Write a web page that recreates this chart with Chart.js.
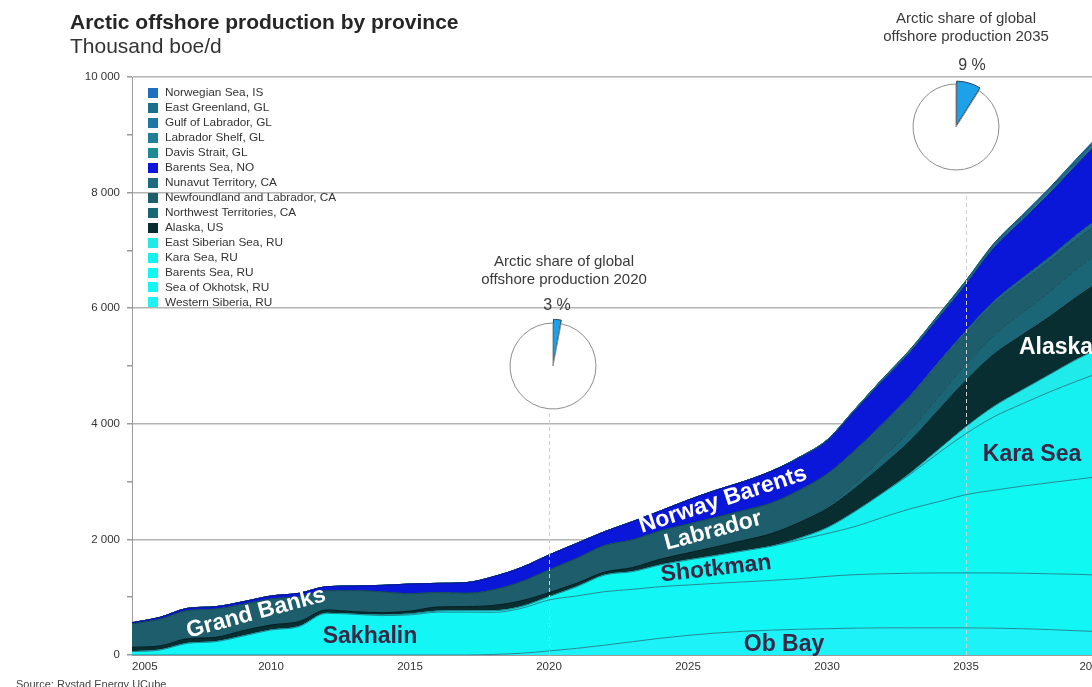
<!DOCTYPE html>
<html>
<head>
<meta charset="utf-8">
<title>Arctic offshore production by province</title>
<script src="https://cdn.jsdelivr.net/npm/chart.js@4.4.1/dist/chart.umd.min.js"></script>
<style>
  html, body { margin: 0; padding: 0; background: #fff; overflow: hidden; }
  #wrap { position: relative; width: 1092px; height: 687px; overflow: hidden; }
  #main { position: absolute; left: 0; top: 0; }
  .pie { position: absolute; }
</style>
</head>
<body>
<div id="wrap">
  <canvas id="main" width="1130" height="687"></canvas>
  <canvas id="pie2020" class="pie" width="120" height="120"></canvas>
  <canvas id="pie2035" class="pie" width="120" height="120"></canvas>
</div>
<script>
// years on the x axis
const years = [2005, 2006, 2007, 2008, 2009, 2010, 2011, 2012, 2013, 2014, 2015, 2016,
  2017, 2018, 2019, 2020, 2021, 2022, 2023, 2024, 2025, 2026, 2027, 2028,
  2029, 2030, 2031, 2032, 2033, 2034, 2035, 2036, 2037, 2038, 2039, 2040];

// thousand boe/d, stacked bottom -> top
const westernSiberia = [0, 0, 0, 0, 0, 0, 0, 0, 0, 0, 0, 0, 0, 10, 30, 70, 115, 170, 230, 290, 340, 380, 410, 430, 445, 455, 465, 470, 470, 470, 470, 465, 455, 440, 420, 400];
const seaOfOkhotsk = [58, 86, 202, 231, 329, 433, 490, 721, 704, 682, 695, 740, 742, 727, 777, 882, 906, 926, 906, 892, 871, 860, 855, 860, 875, 905, 925, 935, 945, 950, 950, 955, 960, 965, 975, 980];
const barentsRU = [0, 0, 0, 0, 0, 0, 0, 0, 0, 10, 15, 20, 25, 30, 30, 57, 161, 288, 306, 375, 433, 480, 535, 590, 670, 740, 830, 975, 1115, 1230, 1355, 1430, 1505, 1575, 1645, 1720];
const karaSea = [0, 0, 0, 0, 0, 0, 0, 0, 0, 0, 0, 0, 0, 0, 0, 0, 0, 0, 0, 0, 0, 0, 0, 0, 30, 100, 260, 420, 600, 840, 1055, 1270, 1420, 1570, 1700, 1820];
const eastSiberian = [0, 0, 0, 0, 0, 0, 0, 0, 0, 0, 0, 0, 0, 0, 0, 0, 0, 0, 0, 0, 0, 0, 0, 0, 0, 0, 0, 0, 20, 60, 120, 180, 240, 300, 380, 430];
const alaska = [75, 70, 80, 74, 92, 86, 86, 58, 45, 40, 50, 70, 70, 90, 100, 70, 60, 50, 70, 100, 120, 150, 180, 220, 270, 330, 400, 480, 560, 680, 800, 900, 950, 1000, 1080, 1170];
const northwestTerritories = [0, 0, 0, 0, 0, 0, 0, 0, 0, 0, 0, 0, 0, 0, 0, 0, 0, 0, 0, 0, 0, 0, 0, 0, 0, 30, 80, 130, 180, 230, 280, 330, 380, 430, 480, 520];
const newfoundland = [403, 462, 485, 490, 456, 450, 433, 333, 365, 360, 300, 250, 230, 270, 330, 393, 430, 460, 480, 490, 500, 510, 520, 530, 560, 570, 580, 580, 580, 570, 540, 540, 540, 530, 520, 510];
const nunavut = [0, 0, 0, 0, 0, 0, 0, 0, 0, 0, 0, 0, 0, 0, 0, 0, 0, 0, 0, 0, 0, 0, 0, 0, 0, 0, 0, 10, 20, 30, 40, 50, 60, 70, 80, 90];
const barentsNO = [23, 33, 41, 41, 45, 52, 58, 70, 80, 113, 168, 160, 184, 228, 245, 258, 260, 240, 315, 344, 416, 470, 500, 550, 560, 570, 680, 740, 750, 760, 800, 920, 1000, 1100, 1210, 1340];
const davisStrait = [0, 0, 0, 0, 0, 0, 0, 0, 0, 0, 0, 0, 0, 0, 0, 0, 0, 0, 0, 0, 0, 0, 0, 0, 10, 15, 20, 20, 20, 25, 25, 25, 25, 25, 25, 25];
const labradorShelf = [0, 0, 0, 0, 0, 0, 0, 0, 0, 0, 0, 0, 0, 0, 0, 0, 0, 0, 0, 0, 0, 0, 0, 0, 0, 5, 10, 15, 15, 15, 15, 15, 20, 20, 20, 20];
const gulfOfLabrador = [0, 0, 0, 0, 0, 0, 0, 0, 0, 0, 0, 0, 0, 0, 0, 0, 0, 0, 0, 0, 0, 0, 0, 0, 0, 0, 0, 5, 10, 10, 15, 15, 15, 20, 20, 25];
const eastGreenland = [0, 0, 0, 0, 0, 0, 0, 0, 0, 0, 0, 0, 0, 0, 0, 0, 0, 0, 0, 0, 0, 0, 0, 0, 0, 0, 0, 0, 5, 10, 10, 15, 15, 15, 20, 25];
const norwegianSea = [0, 0, 0, 0, 0, 0, 0, 0, 0, 0, 0, 0, 0, 0, 0, 0, 0, 0, 0, 0, 0, 0, 0, 0, 0, 0, 0, 0, 0, 0, 5, 10, 15, 20, 25, 25];

// Arctic share of global offshore production (pies)
const share2020 = [3, 97];
const share2035 = [9, 91];

const FONT = '"Liberation Sans", Arial, Helvetica, sans-serif';
Chart.defaults.font.family = FONT;

const series = [
  { label: 'Western Siberia, RU', data: westernSiberia, color: '#1cf2f8', line: '#1f8a94' },
  { label: 'Sea of Okhotsk, RU', data: seaOfOkhotsk, color: '#12f6f6', line: '#1f8a94' },
  { label: 'Barents Sea, RU', data: barentsRU, color: '#0ff8f2', line: '#1f8a94' },
  { label: 'Kara Sea, RU', data: karaSea, color: '#15f0f0', line: '#1f8a94' },
  { label: 'East Siberian Sea, RU', data: eastSiberian, color: '#20eaea', line: '#1f8a94' },
  { label: 'Alaska, US', data: alaska, color: '#082e31', line: '#051f22' },
  { label: 'Northwest Territories, CA', data: northwestTerritories, color: '#1b6676', line: '#154f5c' },
  { label: 'Newfoundland and Labrador, CA', data: newfoundland, color: '#1d5d6c', line: '#154a57' },
  { label: 'Nunavut Territory, CA', data: nunavut, color: '#1e6a80', line: '#165366' },
  { label: 'Barents Sea, NO', data: barentsNO, color: '#0b17d8', line: '#0a1494' },
  { label: 'Davis Strait, GL', data: davisStrait, color: '#1d8a96', line: '#176a74' },
  { label: 'Labrador Shelf, GL', data: labradorShelf, color: '#1e7f97', line: '#176274' },
  { label: 'Gulf of Labrador, GL', data: gulfOfLabrador, color: '#1f78a3', line: '#185c7c' },
  { label: 'East Greenland, GL', data: eastGreenland, color: '#1b6f8c', line: '#15556b' },
  { label: 'Norwegian Sea, IS', data: norwegianSea, color: '#1f6fbf', line: '#185592' }
];

const datasets = series.map((s, i) => ({
  label: s.label,
  data: s.data,
  backgroundColor: s.color,
  borderColor: s.line,
  borderWidth: 1,
  fill: i === 0 ? 'origin' : '-1',
  pointRadius: 0,
  cubicInterpolationMode: 'monotone'
}));

function fmtThousands(v) {
  if (v === 0) return '0';
  const th = Math.floor(v / 1000);
  return th + ' 000';
}

// area labels, titles, legend, pie captions
const decor = {
  id: 'decor',
  afterDraw(chart) {
    const ctx = chart.ctx;
    const xs = chart.scales.x;
    const ys = chart.scales.y;
    ctx.save();

    // dashed markers under the pies
    ctx.strokeStyle = '#cfcfcf';
    ctx.lineWidth = 1;
    ctx.setLineDash([4, 3]);
    [[2020, 413], [2035, 196]].forEach(([yr, top]) => {
      const px = Math.round(xs.getPixelForValue(years.indexOf(yr))) + 0.5;
      ctx.beginPath();
      ctx.moveTo(px, top);
      ctx.lineTo(px, ys.getPixelForValue(0));
      ctx.stroke();
    });
    ctx.setLineDash([]);

    // labels on the areas
    const dark = '#3a2746';
    const areaLabels = [
      ['Grand Banks', 256, 613, -15, '#ffffff'],
      ['Sakhalin', 370, 637, 0, dark],
      ['Ob Bay', 784, 645, 0, dark],
      ['Shotkman', 716, 569, -6.5, dark],
      ['Labrador', 713, 531, -15, '#ffffff'],
      ['Norway Barents', 723, 500, -18, '#ffffff'],
      ['Alaska', 1056, 348, 0, '#ffffff'],
      ['Kara Sea', 1032, 455, 0, dark]
    ];
    ctx.font = 'bold 23px ' + FONT;
    ctx.textAlign = 'center';
    ctx.textBaseline = 'middle';
    areaLabels.forEach(([t, x, y, a, c]) => {
      ctx.save();
      ctx.translate(x, y);
      ctx.rotate(a * Math.PI / 180);
      ctx.fillStyle = c;
      ctx.fillText(t, 0, 0);
      ctx.restore();
    });

    // legend, top entry is the top of the stack
    ctx.textAlign = 'left';
    ctx.font = '11.8px ' + FONT;
    const ds = chart.data.datasets.slice().reverse();
    ds.forEach((d, i) => {
      const y = 93 + i * 14.96;
      ctx.fillStyle = d.backgroundColor;
      ctx.fillRect(148, Math.round(y - 5), 10, 10);
      ctx.fillStyle = '#333';
      ctx.fillText(d.label, 165, y);
    });

    // title + unit
    ctx.fillStyle = '#262626';
    ctx.textBaseline = 'alphabetic';
    ctx.font = 'bold 21px ' + FONT;
    ctx.fillText('Arctic offshore production by province', 70, 29);
    ctx.fillStyle = '#333';
    ctx.font = '21px ' + FONT;
    ctx.fillText('Thousand boe/d', 70, 53);

    // source
    ctx.fillStyle = '#444';
    ctx.font = '11px ' + FONT;
    ctx.fillText('Source: Rystad Energy UCube', 16, 688);

    // pie captions
    ctx.textAlign = 'center';
    ctx.fillStyle = '#3a3a3a';
    ctx.font = '15px ' + FONT;
    ctx.fillText('Arctic share of global', 564, 266);
    ctx.fillText('offshore production 2020', 564, 284);
    ctx.fillText('Arctic share of global', 966, 23);
    ctx.fillText('offshore production 2035', 966, 41);
    ctx.font = '16px ' + FONT;
    ctx.fillText(share2020[0] + ' %', 557, 310);
    ctx.fillText(share2035[0] + ' %', 972, 70);

    ctx.restore();
  }
};

new Chart(document.getElementById('main'), {
  type: 'line',
  data: { labels: years, datasets: datasets },
  options: {
    responsive: false,
    animation: false,
    layout: { padding: { left: 0, right: 25, top: 77, bottom: 0 } },
    plugins: {
      legend: { display: false },
      tooltip: { enabled: false },
      title: { display: false }
    },
    elements: { line: { borderJoinStyle: 'round' } },
    scales: {
      x: {
        type: 'category',
        offset: false,
        grid: { display: false, drawTicks: false, tickLength: 0 },
        border: { display: true, color: '#9a9a9a', width: 1 },
        ticks: {
          autoSkip: false,
          maxRotation: 0,
          align: 'inner',
          padding: 5,
          color: '#333',
          font: { size: 11.5 },
          callback: (v, i) => (years[i] % 5 === 0 ? String(years[i]) : '')
        },
        afterFit: s => { s.height = 32; }
      },
      y: {
        stacked: true,
        min: 0,
        max: 10000,
        grid: {
          color: c => (c.tick && c.tick.value % 2000 === 0 ? '#b4b4b4' : 'rgba(0,0,0,0)'),
          lineWidth: 1.5,
          tickColor: '#9a9a9a',
          tickLength: 5
        },
        border: { display: true, color: '#9a9a9a', width: 1 },
        ticks: {
          stepSize: 1000,
          padding: 7,
          color: '#333',
          font: { size: 11.5 },
          callback: v => (v % 2000 === 0 ? fmtThousands(v) : '')
        },
        afterFit: s => { s.width = 132; }
      }
    }
  },
  plugins: [decor]
});

function makePie(id, share, cx, cy) {
  const el = document.getElementById(id);
  el.style.left = (cx - 60) + 'px';
  el.style.top = (cy - 60) + 'px';
  new Chart(el, {
    type: 'pie',
    data: {
      labels: ['Arctic', 'Rest of world'],
      datasets: [{
        data: share,
        backgroundColor: ['#1da1e8', '#ffffff'],
        borderColor: ['#27405c', '#8c8c8c'],
        borderWidth: 1,
        offset: [8, 0]
      }]
    },
    options: {
      responsive: false,
      animation: false,
      radius: 43,
      layout: { padding: 0 },
      plugins: { legend: { display: false }, tooltip: { enabled: false } }
    }
  });
}
makePie('pie2020', share2020, 553, 366);
makePie('pie2035', share2035, 956, 127);
</script>
</body>
</html>
